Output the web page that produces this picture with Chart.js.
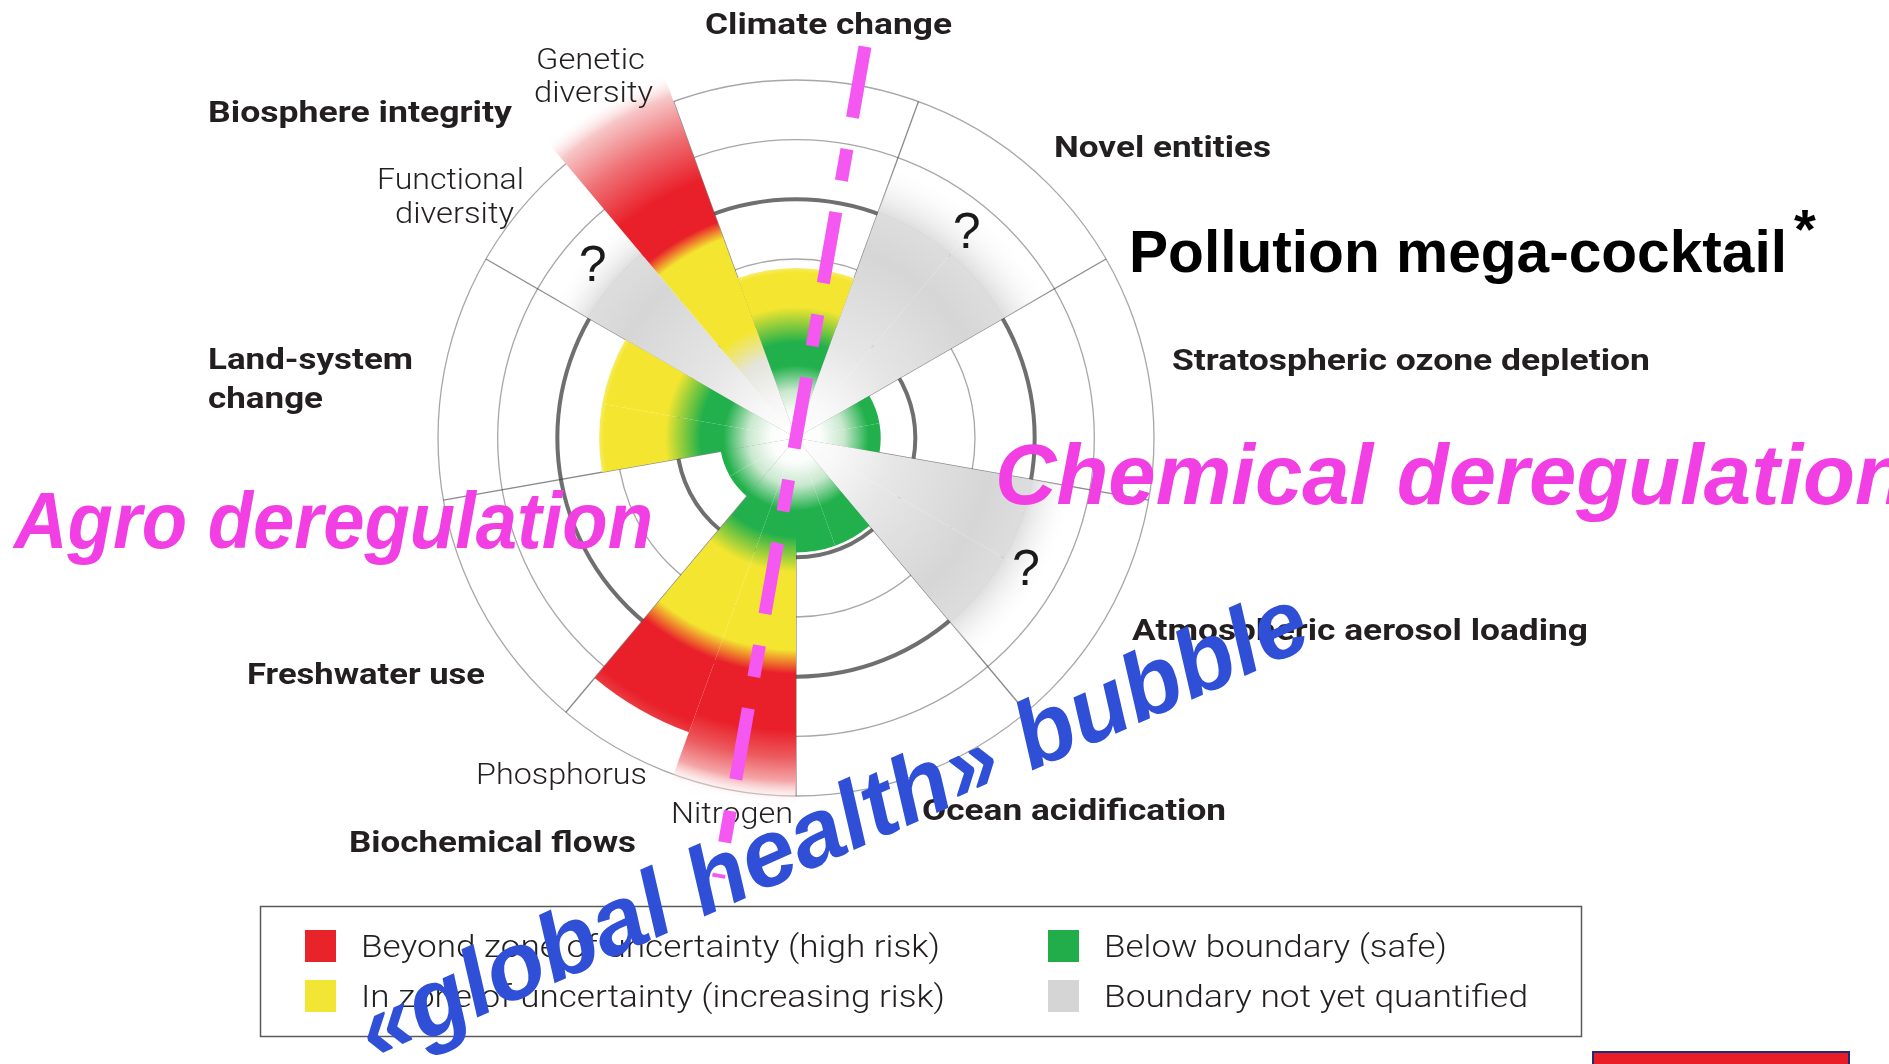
<!DOCTYPE html>
<html><head><meta charset="utf-8">
<script src="https://cdn.jsdelivr.net/npm/chart.js@4.4.1/dist/chart.umd.min.js"></script>
<style>html,body{margin:0;padding:0;background:#fff;overflow:hidden}canvas{display:block}</style>
</head><body>
<canvas id="c" width="1889" height="1064"></canvas>
<script>
// ---------------- DATA ----------------
// 18 equal 20° slices, starting at 340° (clockwise from 12 o'clock)
const segments = ['Climate change','Climate change','Novel entities','Novel entities',
  'Stratospheric ozone depletion','Stratospheric ozone depletion',
  'Atmospheric aerosol loading','Atmospheric aerosol loading',
  'Ocean acidification','Ocean acidification','Nitrogen','Phosphorus',
  'Freshwater use','Freshwater use','Land-system change','Land-system change',
  'Functional diversity','Genetic diversity'];
// control variable, in ring units (boundary = 2, high-risk threshold = 4, outer ring = 6)
const values = [2.85,2.85,4.9,4.9,1.42,1.42,4.8,4.8,1.92,1.92,6.15,5.25,1.28,1.28,3.3,3.3,4.7,6.5];
const status = ['uncertain','uncertain','unknown','unknown','safe','safe','unknown','unknown',
  'safe','safe','high','high','safe','safe','uncertain','uncertain','unknown','high'];
const ringTicks = [0,1,2,3,4,5,6];
const legendLabels = ['Beyond zone of uncertainty (high risk)','In zone of uncertainty (increasing risk)',
  'Below boundary (safe)','Boundary not yet quantified'];
const legendColors = ['#e8232a','#f3e533','#21ae4a','#d5d5d5'];

// ---------------- STYLE ----------------
const C = {green:'#21b04b', yellow:'#f4e630', red:'#e9202a', white:'#ffffff', clear:'rgba(255,255,255,0)'};
const U = 6.6;
function stopsFor(i){
  const v = values[i], s = status[i];
  const core = [[0,'#ffffff'],[0.42,'#fbfdfb'],[0.8,'#c9e8ce'],[1.22,C.green]];
  if (s==='safe') return core.concat([[v,C.green]]);
  if (s==='uncertain') return core.concat([[1.6,C.green],[2.2,C.yellow],[v-0.08,C.yellow],[v,'#f7ec6a']]);
  if (s==='unknown') return [[0,'#ffffff'],[0.7,'#f8f8f8'],[1.7,'#e6e6e6'],[3.3,'#d6d6d6'],[Math.min(4.0,v-0.4),'#dddddd'],[v,C.clear]];
  // high risk
  let st;
  if (segments[i]==='Genetic diversity') {
    st = [[0,'#ffffff'],[0.7,'#f6f6f6'],[1.4,'#e4e4dc'],[1.95,C.yellow],[3.55,C.yellow],[3.85,C.red],[4.6,C.red],[5.4,'#ee7074'],[6.1,'#f7c6c7'],[v,C.clear]];
  } else {
    st = core.concat([[1.65,C.green],[2.25,C.yellow],[3.55,C.yellow],[3.95,C.red]]);
    if (v <= 5.4) st.push([v-0.2,C.red],[v,'#ea3a40']);
    else st.push([4.9,C.red],[5.35,'#ec5a5e'],[v-0.4,'#f4a5a7'],[v,C.clear]);
  }
  return st;
}
const gradCache = {};
function segColor(ctx){
  const chart = ctx.chart, sc = chart.scales && chart.scales.r;
  const i = ctx.dataIndex;
  if (!sc || !isFinite(sc.xCenter) || !sc.drawingArea) return '#ddd';
  const key = i+'_'+sc.xCenter+'_'+sc.yCenter+'_'+sc.drawingArea;
  if (gradCache[key]) return gradCache[key];
  const rMax = sc.getDistanceFromCenterForValue(U);
  const g = chart.ctx.createRadialGradient(sc.xCenter, sc.yCenter, 0, sc.xCenter, sc.yCenter, rMax);
  for (const [u,c] of stopsFor(i)) g.addColorStop(Math.min(1,Math.max(0,u/U)), c);
  return (gradCache[key] = g);
}

// text layout (annotation positions)
const catFont = '700 30px Roboto';
const subFont = '300 30px Roboto';
const catLayout = [
  ['Climate change',705,34,247],['Novel entities',1054,157,217],
  ['Stratospheric ozone depletion',1172,370,478],['Atmospheric aerosol loading',1132,640,456],
  ['Ocean acidification',922,820,304],['Biochemical flows',349,852,287],
  ['Freshwater use',247,684,238],['Land-system',208,369,205],['change',208,408,115],
  ['Biosphere integrity',208,122,304]
];
const subLayout = [
  ['Genetic',536,69,109],['diversity',534,102,119],['Functional',377,189,147],['diversity',395,223,119],
  ['Phosphorus',476,784,171],['Nitrogen',671,823,122]
];

function fitText(ctx, text, x, y, font, color, w){
  ctx.save();
  ctx.font = font;
  const nat = ctx.measureText(text).width;
  ctx.translate(x, y);
  ctx.scale(w ? w/nat : 1, 1);
  ctx.fillStyle = color; ctx.textAlign = 'left'; ctx.textBaseline = 'alphabetic';
  ctx.fillText(text, 0, 0);
  ctx.restore();
}

const overlay = {
  id:'overlay',
  afterDraw(chart){
    const ctx = chart.ctx, sc = chart.scales.r;
    const cx = sc.xCenter, cy = sc.yCenter;
    const pt = (deg, units) => { const a = (deg-90)*Math.PI/180, r = sc.getDistanceFromCenterForValue(units); return [cx + r*Math.cos(a), cy + r*Math.sin(a)]; };
    // question marks in unquantified slices
    const seen = {};
    ctx.save();
    ctx.font = '400 50px "Liberation Sans"'; ctx.fillStyle = '#1a1a1a'; ctx.textAlign='center'; ctx.textBaseline='middle';
    segments.forEach((s,i)=>{
      if (status[i]!=='unknown' || seen[s]) return;
      const idx = segments.filter((q,j)=>q===s).length;
      seen[s]=true;
      const deg = -20 + 20*i + 10*idx;
      const [x,y] = pt(deg, 4.45);
      ctx.fillText('?', x, y);
    });
    ctx.restore();
    // labels
    catLayout.forEach(([t,x,y,w])=>fitText(ctx,t,x,y,catFont,'#231f20',w));
    subLayout.forEach(([t,x,y,w])=>fitText(ctx,t,x,y,subFont,'#231f20',w));
    // legend
    ctx.save();
    ctx.strokeStyle = '#5a5a5a'; ctx.lineWidth = 1.5;
    ctx.strokeRect(260.5, 906.5, 1321, 130);
    const lx = [305,1048], ly = [930,980], lw = [579,584,343,424];
    legendLabels.forEach((t,i)=>{
      const col = Math.floor(i/2), row = i%2;
      ctx.fillStyle = legendColors[i];
      ctx.fillRect(lx[col], ly[row], 31, 32);
      fitText(ctx, t, lx[col]+56, ly[row]+27, '300 31px Roboto', '#231f20', lw[i]);
    });
    ctx.restore();
    // big annotations
    fitText(ctx,'Pollution mega-cocktail',1129,272,'700 60px "Liberation Sans"','#000',658);
    fitText(ctx,'*',1794,248,'700 56px "Liberation Sans"','#000',0);
    fitText(ctx,'Chemical deregulation',995,504,'italic 700 86px "Liberation Sans"','#f23fe4',912);
    fitText(ctx,'Agro deregulation',14,548,'italic 700 80px "Liberation Sans"','#f23fe4',639);
    ctx.save();
    ctx.translate(845, 854); ctx.rotate(-24*Math.PI/180);
    ctx.font = 'italic 700 95px "Liberation Sans"';
    const bt = '«global health» bubble';
    const bw = ctx.measureText(bt).width;
    ctx.scale(1030/bw,1);
    ctx.fillStyle = '#2f4fd7'; ctx.textBaseline='alphabetic';
    ctx.fillText(bt, -bw/2, 0);
    ctx.restore();
    // dashed magenta axis through the centre
    const [x1,y1] = pt(10, 6.66), [x2,y2] = pt(190, 7.48);
    ctx.save();
    ctx.strokeStyle = '#f458f0'; ctx.lineWidth = 13; ctx.setLineDash([72,32,32,32]);
    ctx.beginPath(); ctx.moveTo(x1,y1); ctx.lineTo(x2,y2); ctx.stroke();
    ctx.restore();
    // red bar bottom-right
    ctx.save();
    ctx.fillStyle = '#e81d25'; ctx.fillRect(1593,1052,256,14);
    ctx.strokeStyle = '#1d2b7c'; ctx.lineWidth = 2; ctx.strokeRect(1593,1052,256,14);
    ctx.restore();
  }
};

new Chart(document.getElementById('c'), {
  type:'polarArea',
  data:{ labels: segments, datasets:[{ data: values, backgroundColor: segColor, borderWidth:0, clip:false }] },
  options:{
    responsive:false, animation:false, devicePixelRatio:1,
    layout:{ padding:{ left:438, right:735, top:80, bottom:268 } },
    plugins:{ legend:{display:false}, tooltip:{enabled:false} },
    scales:{ r:{
      min:0, max:6, startAngle:-20, z:1,
      afterBuildTicks: s => { s.ticks = ringTicks.map(v=>({value:v})); },
      ticks:{ display:false, stepSize:1 },
      pointLabels:{ display:false },
      grid:{ circular:true,
        color: c => { const v = c.tick ? c.tick.value : 0; return v===1 ? 'rgba(0,0,0,0)' : (v===2||v===4) ? 'rgba(70,70,70,0.78)' : 'rgba(60,60,60,0.45)'; },
        lineWidth: c => { const v = c.tick ? c.tick.value : 0; return (v===2||v===4) ? 4 : 1.3; } },
      angleLines:{ display:true,
        color: c => (c.index%2===0) ? 'rgba(60,60,60,0.6)' : 'rgba(0,0,0,0)',
        lineWidth: c => (c.index%2===0) ? 1.3 : 0 }
    } }
  },
  plugins:[overlay]
});
</script>
</body></html>
